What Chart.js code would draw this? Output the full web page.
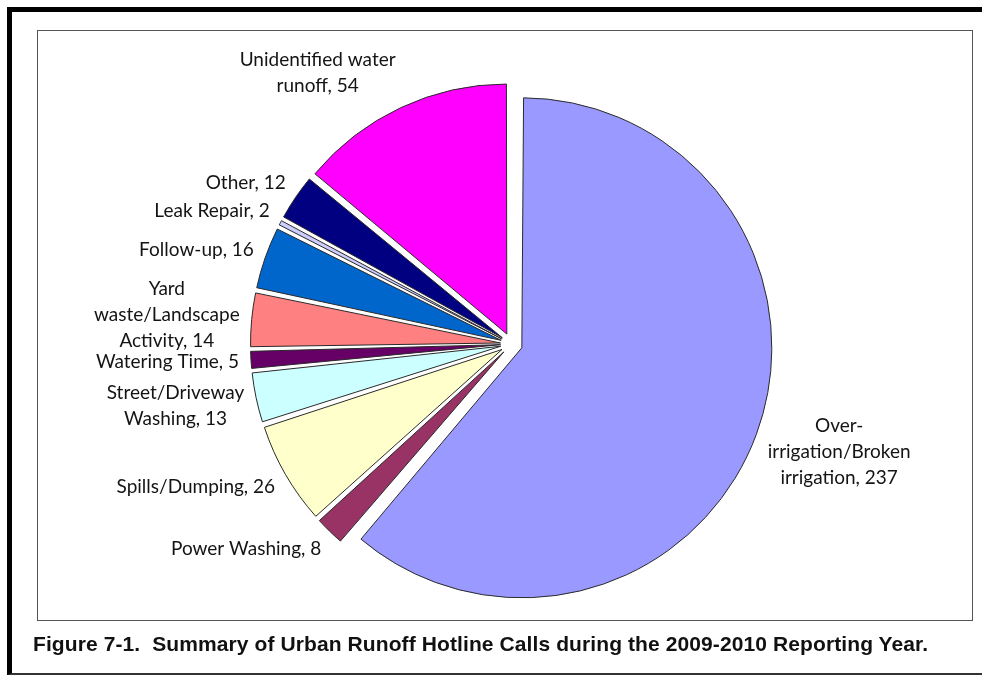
<!DOCTYPE html>
<html>
<head>
<meta charset="utf-8">
<script src="https://cdn.jsdelivr.net/npm/chart.js@4.4.1/dist/chart.umd.min.js"></script>
<style>
    html, body { margin: 0; padding: 0; background: #fff; }
    body { width: 982px; height: 675px; position: relative; overflow: hidden; }
    #frame {
        position: absolute; left: 7px; top: 7px; width: 990px; height: 661px;
        border-left: 5px solid #000; border-top: 5px solid #000; border-bottom: 2px solid #333;
    }
    #plotBox {
        position: absolute; left: 37px; top: 30px; width: 934px; height: 589px;
        border: 1.5px solid #555;
    }
    #caption {
        position: absolute; left: 33px; top: 632px;
        font-family: "Liberation Sans", Arial, sans-serif; font-weight: bold; font-size: 21px;
        letter-spacing: 0.1px; color: #111; white-space: nowrap;
    }
    #chartWrap { position: absolute; left: 0; top: 0; width: 982px; height: 675px; }
</style>
</head>
<body>
<div id="frame"></div>
<div id="plotBox"></div>
<div id="chartWrap"><canvas id="runoff_calls"></canvas></div>
<div id="caption">Figure 7-1.&nbsp; Summary of Urban Runoff Hotline Calls during the 2009-2010 Reporting Year.</div>
<script>
// Data, clockwise from 12 o'clock
const categories = [
    'Over-irrigation/Broken irrigation',
    'Power Washing',
    'Spills/Dumping',
    'Street/Driveway Washing',
    'Watering Time',
    'Yard waste/Landscape Activity',
    'Follow-up',
    'Leak Repair',
    'Other',
    'Unidentified water runoff'
];
const callCounts = [237, 8, 26, 13, 5, 14, 16, 2, 12, 54];

// Label text as it wraps in the figure
const labelLines = [
    ['Over-', 'irrigation/Broken', 'irrigation, 237'],
    ['Power Washing, 8'],
    ['Spills/Dumping, 26'],
    ['Street/Driveway', 'Washing, 13'],
    ['Watering Time, 5'],
    ['Yard', 'waste/Landscape', 'Activity, 14'],
    ['Follow-up, 16'],
    ['Leak Repair, 2'],
    ['Other, 12'],
    ['Unidentified water', 'runoff, 54']
];

const sliceColors = ['#9999FF', '#993366', '#FFFFCC', '#CCFFFF', '#660066',
                     '#FF8080', '#0066CC', '#CCCCFF', '#000080', '#FF00FF'];

const pieRadius = 250;
const explode = 44;      // chart.js moves a slice by offset / 4
const labelGap = 12;
const labelFont = '19px Lato, "Open Sans", sans-serif';
const lineHeight = 26;

// keep every slice the same radius (chart.js grows exploded slices)
const evenRadius = {
    id: 'evenRadius',
    beforeDatasetsDraw(chart) {
        chart.getDatasetMeta(0).data.forEach(function (arc) {
            const shift = explode / 4;
            const circ = arc.endAngle - arc.startAngle;
            const fix = 1 - Math.sin(Math.min(Math.PI, circ));
            arc.outerRadius = pieRadius - shift * fix;
        });
    }
};

// outside labels, placed like Excel does
const outsideLabels = {
    id: 'outsideLabels',
    afterDatasetsDraw(chart) {
        const ctx = chart.ctx;
        ctx.save();
        ctx.font = labelFont;
        ctx.fillStyle = '#141414';
        ctx.textAlign = 'center';
        ctx.textBaseline = 'middle';
        chart.getDatasetMeta(0).data.forEach(function (arc, i) {
            const mid = (arc.startAngle + arc.endAngle) / 2;
            const dx = Math.cos(mid), dy = Math.sin(mid);
            const r = explode / 4 + pieRadius + labelGap;
            const ax = arc.x + dx * r;
            const ay = arc.y + dy * r;
            const lines = labelLines[i];
            const w = Math.max.apply(null, lines.map(function (t) { return ctx.measureText(t).width; }));
            const h = lines.length * lineHeight;
            const left = dx < 0 ? ax - w : ax;
            const top = ay - h / 2 + dy * h / 2;
            lines.forEach(function (t, k) {
                ctx.fillText(t, left + w / 2, top + lineHeight * (k + 0.5));
            });
        });
        ctx.restore();
    }
};

new Chart(document.getElementById('runoff_calls'), {
    type: 'pie',
    data: {
        labels: categories,
        datasets: [{
            data: callCounts,
            backgroundColor: sliceColors,
            borderColor: '#2a2a2a',
            borderWidth: 1,
            offset: explode
        }]
    },
    options: {
        responsive: true,
        maintainAspectRatio: false,
        animation: false,
        radius: pieRadius,
        layout: { padding: { left: 41, right: 0, top: 30, bottom: 17 } },
        plugins: {
            legend: { display: false },
            tooltip: { enabled: false }
        }
    },
    plugins: [evenRadius, outsideLabels]
});
</script>
</body>
</html>
